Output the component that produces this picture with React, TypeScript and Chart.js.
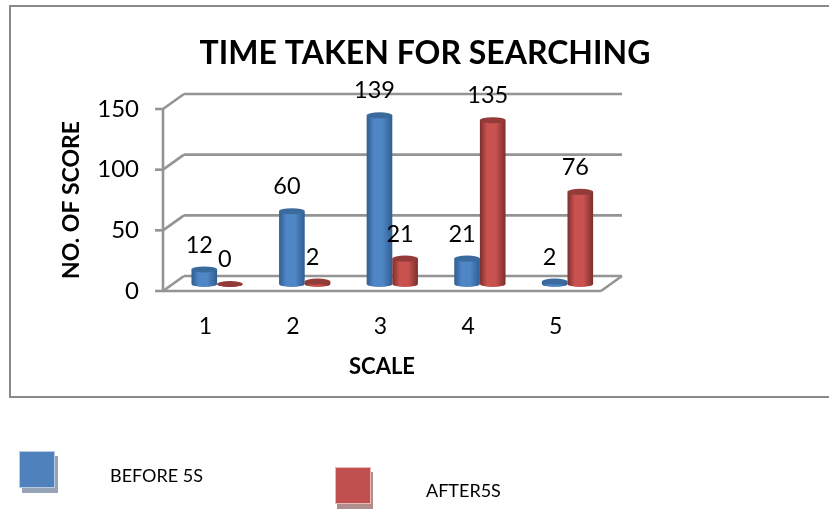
import React, { useEffect, useRef } from "react";
import { Chart, registerables } from "chart.js";

Chart.register(...registerables);

const categories = ["1", "2", "3", "4", "5"];
const beforeValues = [12, 60, 139, 21, 2];
const afterValues = [0, 2, 21, 135, 76];
const yTicks = [0, 50, 100, 150];
const chartTitle = "TIME TAKEN FOR SEARCHING";
const yTitle = "NO. OF SCORE";
const xTitle = "SCALE";
const beforeLabel = "BEFORE 5S";
const afterLabel = "AFTER5S";

const FONT = "Lato, 'Open Sans', sans-serif";
const DEPTH_X = 21;
const DEPTH_Y = 15;
const GRID = "#949494";

const palettes = [
  { edge: "#2f5d90", mid: "#4f86c6", top: "#3b6a9c", shadow: "#96a4b8" },
  { edge: "#7c2f2d", mid: "#c9524f", top: "#923b39", shadow: "#b08e8e" },
];

const wallPlugin = {
  id: "wall",
  beforeDatasetsDraw(chart: any) {
    const { ctx, chartArea: a, scales } = chart;
    const y = scales.y;
    ctx.save();
    ctx.strokeStyle = GRID;
    ctx.lineWidth = 2.6;
    const seg = (x1: number, y1: number, x2: number, y2: number) => {
      ctx.beginPath();
      ctx.moveTo(x1, y1);
      ctx.lineTo(x2, y2);
      ctx.stroke();
    };
    yTicks.forEach((t) => {
      const py = y.getPixelForValue(t);
      seg(a.left - 8, py, a.left, py);
      seg(a.left, py, a.left + DEPTH_X, py - DEPTH_Y);
      seg(a.left + DEPTH_X, py - DEPTH_Y, a.right + DEPTH_X, py - DEPTH_Y);
    });
    seg(a.left, a.top, a.left, a.bottom);
    seg(a.left, a.bottom, a.right, a.bottom);
    seg(a.right, a.bottom, a.right + DEPTH_X, a.bottom - DEPTH_Y);
    ctx.restore();
  },
};

const cylinderPlugin = {
  id: "cylinders",
  afterDatasetsDraw(chart: any) {
    const { ctx } = chart;
    const dx = 10.3;
    const dy = 7;
    const ry = 3;
    chart.data.datasets.forEach((ds: any, di: number) => {
      const pal = palettes[di];
      chart.getDatasetMeta(di).data.forEach((bar: any, i: number) => {
        const w = bar.width;
        const cx = bar.x + dx;
        const top = bar.y - dy;
        const base = bar.base - dy;
        const l = cx - w / 2;
        const g = ctx.createLinearGradient(l, 0, l + w, 0);
        g.addColorStop(0, pal.edge);
        g.addColorStop(0.28, pal.mid);
        g.addColorStop(0.62, pal.mid);
        g.addColorStop(1, pal.edge);
        ctx.save();
        ctx.fillStyle = g;
        ctx.beginPath();
        ctx.moveTo(l, top);
        ctx.lineTo(l, base);
        ctx.ellipse(cx, base, w / 2, ry, 0, Math.PI, 0, true);
        ctx.lineTo(l + w, top);
        ctx.closePath();
        ctx.fill();
        ctx.fillStyle = pal.top;
        ctx.beginPath();
        ctx.ellipse(cx, top, w / 2, ry, 0, 0, Math.PI * 2);
        ctx.fill();
        ctx.restore();
        ctx.save();
        ctx.fillStyle = "#000";
        ctx.font = `23.5px ${FONT}`;
        ctx.textAlign = "center";
        ctx.textBaseline = "middle";
        ctx.fillText(String(ds.data[i]), cx - 5, top - 24.5);
        ctx.restore();
      });
    });
  },
};

const framePlugin = {
  id: "frame",
  beforeDraw(chart: any) {
    const { ctx, width } = chart;
    ctx.save();
    ctx.fillStyle = "#fff";
    ctx.fillRect(0, 0, width, chart.height);
    ctx.strokeStyle = "#8a8a8a";
    ctx.lineWidth = 2;
    ctx.beginPath();
    ctx.moveTo(width, 6);
    ctx.lineTo(10, 6);
    ctx.lineTo(10, 397);
    ctx.lineTo(width, 397);
    ctx.stroke();
    ctx.restore();
  },
  afterDraw(chart: any) {
    const { ctx } = chart;
    const items = [
      { x: 19, y: 451, s: 36, h: 37, tx: 110, ty: 476, text: chart.data.datasets[0].label, fill: "#4f81bd", sh: palettes[0].shadow, sx: 3, sy: 5 },
      { x: 335, y: 467, s: 36, h: 37, tx: 426, ty: 491, text: chart.data.datasets[1].label, fill: "#c0504d", sh: palettes[1].shadow, sx: 2, sy: 5 },
    ];
    items.forEach((it) => {
      ctx.save();
      ctx.fillStyle = it.sh;
      ctx.fillRect(it.x + it.sx, it.y + it.sy, it.s, it.h);
      ctx.fillStyle = it.fill;
      ctx.fillRect(it.x, it.y, it.s, it.h);
      ctx.strokeStyle = "rgba(255,255,255,0.6)";
      ctx.lineWidth = 1;
      ctx.strokeRect(it.x + 0.5, it.y + 0.5, it.s - 1, it.h - 1);
      ctx.fillStyle = "#000";
      ctx.font = `18px ${FONT}`;
      ctx.textAlign = "left";
      ctx.textBaseline = "middle";
      ctx.fillText(it.text, it.tx, it.ty);
      ctx.restore();
    });
  },
};

export default function App() {
  const ref = useRef<HTMLCanvasElement>(null);
  useEffect(() => {
    const chart = new Chart(ref.current as HTMLCanvasElement, {
      type: "bar",
      data: {
        labels: categories,
        datasets: [
          { label: beforeLabel, data: beforeValues, backgroundColor: "rgba(0,0,0,0)", barPercentage: 1, categoryPercentage: 0.585, yAxisID: "y" },
          { label: afterLabel, data: afterValues, backgroundColor: "rgba(0,0,0,0)", barPercentage: 1, categoryPercentage: 0.585, yAxisID: "y" },
        ],
      },
      options: {
        responsive: false,
        animation: false,
        layout: { padding: { left: 21, right: 0, top: 0, bottom: 129 } },
        plugins: {
          legend: { display: false },
          tooltip: { enabled: false },
          title: {
            display: true,
            text: chartTitle,
            color: "#000",
            font: { family: FONT, size: 32, weight: "bold" },
            padding: { top: 34, bottom: 36.6 },
          },
        },
        scales: {
          x: {
            grid: { display: false, drawTicks: false },
            border: { display: false },
            ticks: { color: "#000", padding: 22, labelOffset: -1.5, font: { family: FONT, size: 23 }, maxRotation: 0 },
            title: { display: true, text: xTitle, color: "#000", padding: { top: 0, bottom: 1 }, font: { family: FONT, size: 22, weight: "bold" } },
            afterFit(s: any) { s.height = 90; },
          },
          y: {
            min: 0,
            max: 150,
            grid: { display: false, drawTicks: false },
            border: { display: false },
            ticks: { color: "#000", padding: 24, stepSize: 50, font: { family: FONT, size: 24 } },
            title: { display: true, text: yTitle, color: "#000", padding: { top: 37, bottom: 0 }, font: { family: FONT, size: 23, weight: "bold" } },
            afterFit(s: any) { s.width = 142; },
          },
          spacer: {
            position: "right",
            display: true,
            grid: { display: false, drawTicks: false },
            border: { display: false },
            ticks: { display: false },
            afterFit(s: any) { s.width = 228; },
          },
        },
      } as any,
      plugins: [framePlugin, wallPlugin, cylinderPlugin],
    });
    return () => chart.destroy();
  }, []);
  return <canvas ref={ref} width={829} height={510} style={{ position: "absolute", left: 0, top: 0, display: "block" }} />;
}
